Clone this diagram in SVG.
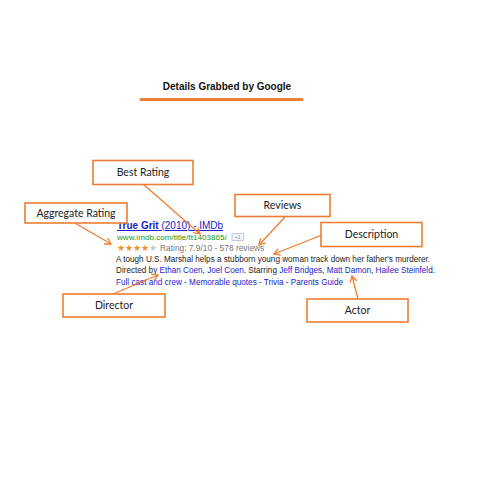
<svg xmlns="http://www.w3.org/2000/svg" width="500" height="500" viewBox="0 0 500 500">
<style>
.box{fill:#fff;stroke:#ED7D31;stroke-width:1.6}
.lbl{font-family:Lato,"Liberation Sans",sans-serif;font-size:10.5px;fill:#222;text-anchor:middle}
.conn{stroke:#ED7D31;stroke-width:1.3;fill:none;marker-end:url(#arr)}
.s{font-family:"Liberation Sans",Arial,sans-serif}
.link{fill:#2222cc}
</style>
<defs>
<marker id="arr" markerWidth="8" markerHeight="8" refX="6" refY="4" orient="auto" markerUnits="userSpaceOnUse">
<path d="M0,0.5 L6,4 L0,7.5" fill="none" stroke="#ED7D31" stroke-width="1.3"/>
</marker>
</defs>
<rect width="500" height="500" fill="#fff"/>
<g id="title">
<text x="227" y="90" class="s" font-size="10" font-weight="bold" text-anchor="middle" fill="#111">Details Grabbed by Google</text>
<line x1="141" y1="99.5" x2="302" y2="99.5" stroke="#ED7D31" stroke-width="3" stroke-linecap="round"/>
</g>
<g id="snippet" class="s">
<text x="117" y="229" font-size="10" class="link" text-decoration="underline"><tspan font-weight="bold">True Grit</tspan> (2010) - IMDb</text>
<text x="117" y="240" font-size="8.1" fill="#1a9a1a">www.imdb.com/title/tt1403865/</text>
<rect x="232" y="233.5" width="11.5" height="7" fill="#f4f6fb" stroke="#aab4cc" stroke-width="0.7"/>
<text x="237.7" y="239.2" font-size="5" fill="#8894b0" text-anchor="middle">+1</text>
<text x="117" y="251" font-size="8.5" fill="#f09020">★★★★<tspan fill="#c8c8c8">★</tspan></text>
<text x="160" y="251" font-size="8.4" fill="#777">Rating: 7.9/10 - 578 reviews</text>
<text x="116" y="262" font-size="8.3" fill="#222" textLength="314" lengthAdjust="spacingAndGlyphs">A tough U.S. Marshal helps a stubborn young woman track down her father's murderer.</text>
<text x="116" y="273" font-size="8.3" fill="#222" textLength="319" lengthAdjust="spacingAndGlyphs">Directed by <tspan class="link">Ethan Coen</tspan>, <tspan class="link">Joel Coen</tspan>. Starring <tspan class="link">Jeff Bridges</tspan>, <tspan class="link">Matt Damon</tspan>, <tspan class="link">Hailee Steinfeld</tspan>.</text>
<text x="116" y="285" font-size="8.3" class="link" textLength="227" lengthAdjust="spacingAndGlyphs">Full cast and crew - Memorable quotes - Trivia - Parents Guide</text>
</g>
<g id="connectors">
<line class="conn" x1="143" y1="184" x2="200" y2="234"/>
<line class="conn" x1="75" y1="223" x2="111" y2="244"/>
<line class="conn" x1="285" y1="217" x2="259" y2="245"/>
<line class="conn" x1="322" y1="235" x2="274" y2="254"/>
<line class="conn" x1="113" y1="294" x2="158" y2="275"/>
<line class="conn" x1="358" y1="299" x2="352" y2="276"/>
</g>
<g id="best-rating"><rect class="box" x="93" y="160.5" width="100" height="24"/><text class="lbl" x="143" y="176">Best Rating</text></g>
<g id="aggregate-rating"><rect class="box" x="25" y="203" width="102" height="20"/><text class="lbl" x="76" y="216.5">Aggregate Rating</text></g>
<g id="reviews"><rect class="box" x="235" y="194.5" width="95" height="22"/><text class="lbl" x="282.5" y="209">Reviews</text></g>
<g id="description"><rect class="box" x="321" y="222.5" width="101" height="24"/><text class="lbl" x="371.5" y="238">Description</text></g>
<g id="director"><rect class="box" x="63" y="294" width="102" height="23"/><text class="lbl" x="114" y="309">Director</text></g>
<g id="actor"><rect class="box" x="307" y="299" width="101" height="23"/><text class="lbl" x="357.5" y="314">Actor</text></g>
</svg>
